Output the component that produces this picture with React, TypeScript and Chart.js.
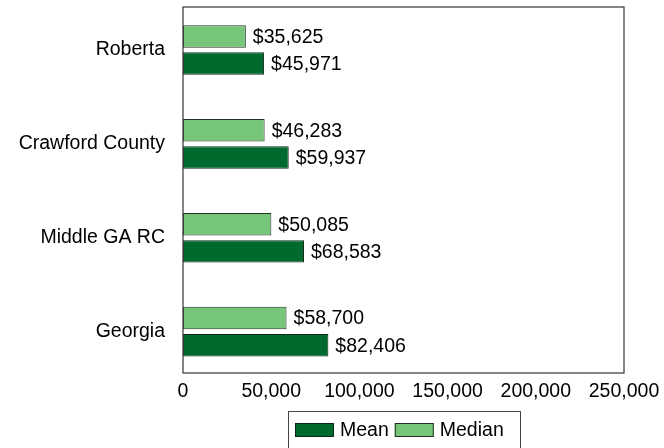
import React, { useEffect, useRef } from "react";
import { Chart, registerables } from "chart.js";

Chart.register(...registerables);

const categories = ["Roberta", "Crawford County", "Middle GA RC", "Georgia"];
const meanValues = [45971, 59937, 68583, 82406];
const medianValues = [35625, 46283, 50085, 58700];
const xTicks = [0, 50000, 100000, 150000, 200000, 250000];

const FONT = "'Liberation Sans', Arial, sans-serif";
const FS = 19.5;

const fmt = (v: number) => v.toLocaleString("en-US");

const labelsPlugin = {
  id: "barLabels",
  afterDatasetsDraw(chart: any) {
    const ctx = chart.ctx;
    ctx.save();
    ctx.font = `${FS}px ${FONT}`;
    ctx.fillStyle = "#000";
    ctx.textAlign = "left";
    ctx.textBaseline = "middle";
    chart.data.datasets.forEach((ds: any, i: number) => {
      const meta = chart.getDatasetMeta(i);
      meta.data.forEach((bar: any, j: number) => {
        ctx.fillText("$" + fmt(ds.data[j]), bar.x + 7, bar.y + 1);
      });
    });
    ctx.restore();
  },
};

const framePlugin = {
  id: "frame",
  afterDraw(chart: any) {
    const { ctx, chartArea } = chart;
    ctx.save();
    ctx.strokeStyle = "#444";
    ctx.lineWidth = 1.3;
    ctx.strokeRect(chartArea.left, chartArea.top, chartArea.right - chartArea.left, chartArea.bottom - chartArea.top);

    // legend (Mean first, then Median)
    const boxL = 288.5, boxT = 411.5, boxR = 520.5, boxB = 452;
    ctx.lineWidth = 1;
    ctx.strokeStyle = "#444";
    ctx.fillStyle = "#fff";
    ctx.fillRect(boxL, boxT, boxR - boxL, boxB - boxT);
    ctx.strokeRect(boxL, boxT, boxR - boxL, boxB - boxT);
    const order = [1, 0];
    let x = 295;
    const cy = 430;
    ctx.font = `${FS}px ${FONT}`;
    ctx.textBaseline = "middle";
    ctx.textAlign = "left";
    order.forEach((i) => {
      const ds: any = chart.data.datasets[i];
      ctx.fillStyle = ds.backgroundColor;
      ctx.fillRect(x, cy - 7, 39, 14);
      ctx.strokeStyle = ds.borderColor;
      ctx.strokeRect(x + 0.5, cy - 6.5, 38, 13);
      ctx.fillStyle = "#000";
      const t = ds.label;
      ctx.fillText(t, x + 45, cy + 1);
      x += 45 + ctx.measureText(t).width + 6;
    });
    ctx.restore();
  },
};

export default function App() {
  const ref = useRef<HTMLCanvasElement>(null);
  useEffect(() => {
    document.body.style.margin = "0";
    const chart = new Chart(ref.current!, {
      type: "bar",
      data: {
        labels: categories,
        datasets: [
          {
            label: "Median",
            data: medianValues,
            backgroundColor: "#76C578",
            borderColor: "#1f3320",
            borderWidth: 1,
            borderSkipped: false,
            categoryPercentage: 0.579,
            barPercentage: 0.827,
          },
          {
            label: "Mean",
            data: meanValues,
            backgroundColor: "#006A2E",
            borderColor: "#0e2716",
            borderWidth: 1,
            borderSkipped: false,
            categoryPercentage: 0.579,
            barPercentage: 0.827,
          },
        ],
      },
      options: {
        indexAxis: "y",
        animation: false,
        responsive: false,
        maintainAspectRatio: false,
        layout: { padding: { top: 7, right: 40, left: 0, bottom: 0 } },
        scales: {
          x: {
            min: 0,
            max: 250000,
            afterBuildTicks(axis: any) {
              axis.ticks = xTicks.map((v) => ({ value: v }));
            },
            afterFit(axis: any) {
              axis.height = 75;
              axis.paddingLeft = 0;
              axis.paddingRight = 0;
            },
            grid: { display: false, drawTicks: false },
            border: { display: false },
            ticks: {
              color: "#000",
              padding: 7,
              font: { family: FONT, size: FS },
              maxRotation: 0,
              autoSkip: false,
              callback: (v: any) => fmt(Number(v)),
            },
          },
          y: {
            afterBuildTicks(axis: any) {
              axis._startValue = -0.458;
              axis._valueRange = 3.898;
            },
            afterFit(axis: any) {
              axis.width = 183;
              axis.paddingTop = 0;
              axis.paddingBottom = 0;
            },
            grid: { display: false, drawTicks: false },
            border: { display: false },
            ticks: {
              color: "#000",
              padding: 18,
              font: { family: FONT, size: FS },
            },
          },
        },
        plugins: {
          legend: { display: false },
          tooltip: { enabled: false },
        },
      },
      plugins: [labelsPlugin, framePlugin],
    });
    return () => chart.destroy();
  }, []);
  return (
    <div style={{ position: "absolute", left: 0, top: 0, width: 664, height: 448 }}>
      <canvas ref={ref} width={664} height={448} />
    </div>
  );
}
